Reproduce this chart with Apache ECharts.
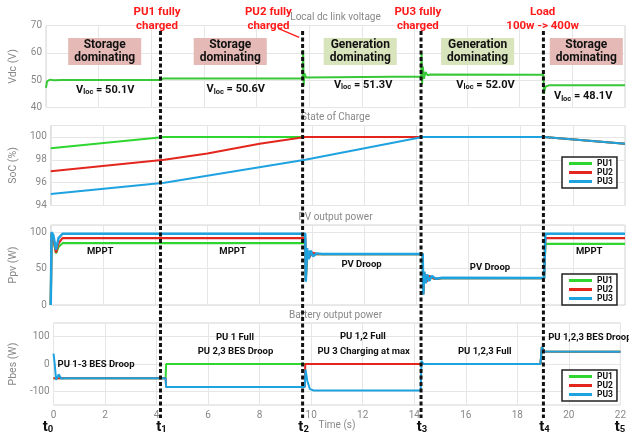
<!DOCTYPE html>
<html>
<head>
<meta charset="utf-8">
<script src="https://cdn.jsdelivr.net/npm/echarts@6/dist/echarts.min.js"></script>
<style>
html, body { margin: 0; padding: 0; background: #fff; }
#main { width: 629px; height: 443px; }
</style>
</head>
<body>
<div id="main"></div>
<script>
// event instants t0..t5 (s)
var eventTimes = [0, 4.35, 9.75, 14.25, 18.9, 22];

// local dc link voltage (V)
var vdcData = [[0,47.2],[0.04,49.6],[0.15,50.2],[0.3,50.0],[0.6,50.1],[4.35,50.1],[4.45,50.6],[9.75,50.6],[9.77,61],[9.79,48],[9.82,52.5],[9.88,51],[9.95,51.4],[14.25,51.3],[14.27,60],[14.29,48.5],[14.32,55],[14.36,50.5],[14.42,53],[14.5,51.8],[14.6,52.1],[18.9,52],[18.92,45],[18.97,47.6],[19.1,48.1],[22,48.1]];

// state of charge (%)
var soc1 = [[0,99],[4.35,100],[18.9,100],[22,99.4]];
var soc2 = [[0,97],[4.35,98],[6,98.55],[8,99.4],[9.75,100],[18.9,100],[22,99.4]];
var soc3 = [[0,95],[4.35,96],[9.75,98],[14.25,100],[18.9,100],[22,99.4]];

// PV output power (W)
var ppv1 = [[0,0],[0.03,96],[0.1,90],[0.2,71],[0.3,80],[0.45,85],[9.75,85],[9.77,35],[9.82,72],[9.9,66],[10,71],[10.2,70],[14.25,70],[14.27,16],[14.32,42],[14.4,33],[14.5,39],[14.7,36],[15,37],[18.9,37],[18.95,84],[22,84]];
var ppv2 = [[0,0],[0.03,98],[0.1,92],[0.2,72],[0.3,85],[0.45,92],[9.75,92],[9.77,34],[9.82,75],[9.9,65],[10,72],[10.2,70],[14.25,70],[14.27,15],[14.32,44],[14.4,32],[14.5,40],[14.7,36],[15,37],[18.9,37],[18.95,92],[22,92]];
var ppv3 = [[0,0],[0.03,100],[0.1,96],[0.2,76],[0.3,92],[0.45,98],[9.75,98],[9.77,32],[9.82,78],[9.88,63],[9.95,75],[10.05,67],[10.2,71],[10.4,70],[14.25,70],[14.27,14],[14.31,46],[14.36,30],[14.42,42],[14.5,33],[14.6,40],[14.75,36],[15,37.5],[18.9,37],[18.95,98],[22,98]];

// battery output power (W)
var pbes1 = [[0,-52],[4.35,-52],[4.37,0],[18.9,0],[18.95,62],[19.05,46],[22,45]];
var pbes2 = [[0,-52],[4.35,-52],[4.37,-84],[9.75,-84],[9.77,0],[18.9,0],[18.95,62],[19.05,46],[22,45]];
var pbes3 = [[0,38],[0.04,5],[0.1,-58],[0.2,-38],[0.3,-53],[0.5,-52],[4.35,-52],[4.37,-84],[9.75,-84],[9.78,-20],[9.85,-62],[9.95,-92],[10.1,-97],[14.25,-97],[14.28,12],[14.35,1],[14.5,0],[18.9,0],[18.95,62],[19.05,46],[22,45]];

var panelTitles = ['Local dc link voltage', 'State of Charge', 'PV output power', 'Battery output power'];
var axisNames = ['Vdc (V)', 'SoC (%)', 'Ppv (W)', 'Pbes (W)'];
var yMin = [40, 94, 0, -150];
var yMax = [70, 101, 110, 150];
var yStep = [10, 2, 50, 50];

// annotations: [time, value, text]
var modeBoxes = [[2.23, 'Storage\ndominating', 's'], [7.0, 'Storage\ndominating', 's'], [11.94, 'Generation\ndominating', 'g'], [16.4, 'Generation\ndominating', 'g'], [20.53, 'Storage\ndominating', 's']];
var vlocLabels = [[2.25, 46.4, '50.1V'], [7.21, 46.7, '50.6V'], [12.05, 48.2, '51.3V'], [16.7, 48.2, '52.0V'], [20.41, 44, '48.1V']];
var eventLabels = [[4.22, 'PU1 fully\ncharged'], [8.45, 'PU2 fully\ncharged'], [14.13, 'PU3 fully\ncharged'], [18.87, 'Load\n100w -> 400w']];
var ppvLabels = [[2.06, 73, 'MPPT'], [7.09, 73, 'MPPT'], [20.64, 73, 'MPPT'], [11.99, 55, 'PV Droop'], [16.87, 51, 'PV Droop']];
var pbesLabels = [[1.9, -1, 'PU 1-3 BES Droop'], [7.18, 98, 'PU 1 Full'], [7.2, 45, 'PU 2,3 BES Droop'], [12.04, 99, 'PU 1,2 Full'], [12.07, 44, 'PU 3 Charging at max'], [16.67, 44, 'PU 1,2,3 Full']];

var font = 'Roboto, "Liberation Sans", sans-serif';
var cGreen = '#2fd62f', cRed = '#e3261d', cBlue = '#1fa3e0';

var chart = echarts.init(document.getElementById('main'));

var grids = [], xAxes = [], yAxes = [];
var tops = [25.5, 125.5, 225, 323], heights = [82, 80, 80, 82];
for (var i = 0; i < 4; i++) {
  grids.push({left: 43.5, right: 4, top: tops[i], height: heights[i], show: true, borderColor: '#d4d4d4', borderWidth: 1, backgroundColor: '#fff'});
  xAxes.push({
    type: 'value', gridIndex: i, min: 0, max: 22, interval: 2,
    name: i === 3 ? 'Time (s)' : '', nameLocation: 'middle', nameGap: 15,
    nameTextStyle: {fontSize: 10, color: '#888', fontFamily: font},
    axisLine: {show: false}, axisTick: {show: false},
    axisLabel: {show: i === 3, fontSize: 10, color: '#888', margin: 5, fontFamily: font},
    splitLine: {show: true, lineStyle: {color: '#e6e6e6', width: 1}}
  });
  (function(k) {
    yAxes.push({
      type: 'value', gridIndex: k, min: yMin[k], max: yMax[k], interval: yStep[k],
      name: axisNames[k], nameLocation: 'middle', nameGap: 27, nameRotate: 90,
      nameTextStyle: {fontSize: 10.5, color: '#888', fontFamily: font},
      axisLine: {show: false}, axisTick: {show: false},
      axisLabel: {fontSize: 10, color: '#888', margin: 4, fontFamily: font,
        formatter: function(v) {
          if (k === 1) return v <= 100 ? v : '';
          if (k === 2) return v <= 100 ? v : '';
          if (k === 3) return (v % 100 === 0) ? v : '';
          return v;
        }},
      splitLine: {show: true, lineStyle: {color: k === 3 ? ['rgba(0,0,0,0)', '#e6e6e6'] : '#e6e6e6', width: 1}}
    });
  })(i);
}

function line(name, data, gi, color, w) {
  return {type: 'line', name: name, data: data, xAxisIndex: gi, yAxisIndex: gi,
    showSymbol: false, symbol: 'none', silent: true,
    lineStyle: {color: color, width: w || 2}, itemStyle: {color: color}};
}

function legendAt(top) {
  return {
    data: ['PU1', 'PU2', 'PU3'], orient: 'vertical', left: 562, top: top,
    icon: 'rect', itemWidth: 23, itemHeight: 3, itemGap: 0,
    padding: [2, 4, 2, 7], borderColor: '#222', borderWidth: 1.5, backgroundColor: '#fff',
    selectedMode: false,
    textStyle: {fontSize: 8.5, fontWeight: 'bold', color: '#111', lineHeight: 8.5, fontFamily: font}
  };
}

chart.setOption({
  animation: false,
  backgroundColor: '#fff',
  grid: grids, xAxis: xAxes, yAxis: yAxes,
  legend: [legendAt(157), legendAt(274), legendAt(370)],
  series: [
    line('Vdc', vdcData, 0, '#38c838', 2),
    line('PU1', soc1, 1, cGreen), line('PU2', soc2, 1, cRed), line('PU3', soc3, 1, cBlue),
    line('PU1', ppv1, 2, cGreen, 2.2), line('PU2', ppv2, 2, cRed, 2.2), line('PU3', ppv3, 2, cBlue, 2.5),
    line('PU1', pbes1, 3, cGreen), line('PU2', pbes2, 3, cRed), line('PU3', pbes3, 3, cBlue)
  ]
});

function X(t) { return chart.convertToPixel({xAxisIndex: 0}, t); }
function Y(k, v) { return chart.convertToPixel({yAxisIndex: k}, v); }

var g = [];
var midX = (X(0) + X(22)) / 2;
panelTitles.forEach(function(s, k) {
  g.push({type: 'text', x: midX, y: Y(k, yMax[k]) - 8, z: 20,
    style: {text: s, fill: '#888', font: '10px ' + font, align: 'center', verticalAlign: 'middle'}});
});

modeBoxes.forEach(function(b) {
  g.push({type: 'text', x: X(b[0]), y: Y(0, 60.5), z: 20,
    style: {text: b[1], fill: '#111', font: 'bold 12px ' + font, lineHeight: 13.5,
      align: 'center', verticalAlign: 'middle',
      backgroundColor: b[2] === 's' ? '#e4b9b6' : '#d8e4bc', padding: [0, 6, 0, 6]}});
});

vlocLabels.forEach(function(v) {
  g.push({type: 'text', x: X(v[0]), y: Y(0, v[1]), z: 20,
    style: {text: '{a|V}{b|loc}{a| = ' + v[2] + '}', align: 'center', verticalAlign: 'middle',
      rich: {a: {fontSize: 11, fontWeight: 'bold', fontFamily: font, fill: '#111', color: '#111', lineHeight: 13},
             b: {fontSize: 7.5, fontWeight: 'bold', fontFamily: font, fill: '#111', color: '#111', lineHeight: 6, verticalAlign: 'bottom'}}}});
});

eventLabels.forEach(function(e) {
  g.push({type: 'text', x: X(e[0]), y: 19, z: 20,
    style: {text: e[1], fill: '#ff1a1a', font: 'bold 11.5px ' + font, lineHeight: 13.5, align: 'center', verticalAlign: 'middle'}});
});
g.push({type: 'line', z: 20, shape: {x1: X(8.82), y1: 28.3, x2: X(9.62), y2: 37.3}, style: {stroke: '#ff1a1a', lineWidth: 1.3}});

ppvLabels.forEach(function(p) {
  g.push({type: 'text', x: X(p[0]), y: Y(2, p[1]), z: 20,
    style: {text: p[2], fill: '#111', font: 'bold 9.5px ' + font, align: 'center', verticalAlign: 'middle'}});
});
pbesLabels.forEach(function(p) {
  g.push({type: 'text', x: X(p[0]), y: Y(3, p[1]), z: 20,
    style: {text: p[2], fill: '#111', font: 'bold 9.5px ' + font, align: 'center', verticalAlign: 'middle'}});
});
g.push({type: 'text', x: X(19.08), y: Y(3, 96), z: 20,
  style: {text: 'PU 1,2,3 BES Droop', fill: '#111', font: 'bold 9.5px ' + font, align: 'left', verticalAlign: 'middle'}});

// dashed event markers t1..t4
eventTimes.slice(1, 5).forEach(function(t) {
  g.push({type: 'line', z: 30, shape: {x1: X(t), y1: 31, x2: X(t), y2: 418},
    style: {stroke: '#111', lineWidth: 3, lineDash: [4, 2.5]}});
});

// t0..t5 labels
eventTimes.forEach(function(t, k) {
  g.push({type: 'text', x: Math.min(Math.max(X(t) + 1, 48), 620), y: 427, z: 30,
    style: {text: '{t|t}{s|' + k + '}', align: 'center', verticalAlign: 'middle',
      rich: {t: {fontSize: 15, fontWeight: 'bold', fontFamily: font, fill: '#111', color: '#111', lineHeight: 16},
             s: {fontSize: 9.5, fontWeight: 'bold', fontFamily: font, fill: '#111', color: '#111', lineHeight: 8, verticalAlign: 'bottom'}}}});
});

chart.setOption({graphic: g});
</script>
</body>
</html>
